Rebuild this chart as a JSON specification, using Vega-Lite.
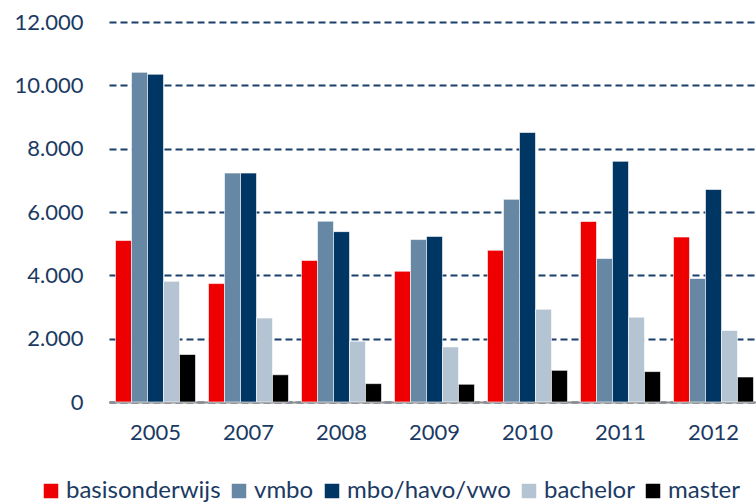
{
  "$schema": "https://vega.github.io/schema/vega-lite/v6.json",
  "autosize": {"type": "none"},
  "width": 651,
  "height": 380,
  "padding": {"left": 109, "top": 22, "right": 0, "bottom": 102},
  "background": "white",
  "config": {
    "font": "Lato",
    "view": {"stroke": null}
  },
  "data": {
    "values": [
      {"jaar": "2005", "niveau": "basisonderwijs", "aantal": 5100},
      {"jaar": "2005", "niveau": "vmbo", "aantal": 10410},
      {"jaar": "2005", "niveau": "mbo/havo/vwo", "aantal": 10350},
      {"jaar": "2005", "niveau": "bachelor", "aantal": 3810},
      {"jaar": "2005", "niveau": "master", "aantal": 1500},
      {"jaar": "2007", "niveau": "basisonderwijs", "aantal": 3740},
      {"jaar": "2007", "niveau": "vmbo", "aantal": 7230},
      {"jaar": "2007", "niveau": "mbo/havo/vwo", "aantal": 7230},
      {"jaar": "2007", "niveau": "bachelor", "aantal": 2650},
      {"jaar": "2007", "niveau": "master", "aantal": 860},
      {"jaar": "2008", "niveau": "basisonderwijs", "aantal": 4470},
      {"jaar": "2008", "niveau": "vmbo", "aantal": 5710},
      {"jaar": "2008", "niveau": "mbo/havo/vwo", "aantal": 5380},
      {"jaar": "2008", "niveau": "bachelor", "aantal": 1920},
      {"jaar": "2008", "niveau": "master", "aantal": 580},
      {"jaar": "2009", "niveau": "basisonderwijs", "aantal": 4130},
      {"jaar": "2009", "niveau": "vmbo", "aantal": 5130},
      {"jaar": "2009", "niveau": "mbo/havo/vwo", "aantal": 5230},
      {"jaar": "2009", "niveau": "bachelor", "aantal": 1740},
      {"jaar": "2009", "niveau": "master", "aantal": 560},
      {"jaar": "2010", "niveau": "basisonderwijs", "aantal": 4790},
      {"jaar": "2010", "niveau": "vmbo", "aantal": 6400},
      {"jaar": "2010", "niveau": "mbo/havo/vwo", "aantal": 8510},
      {"jaar": "2010", "niveau": "bachelor", "aantal": 2930},
      {"jaar": "2010", "niveau": "master", "aantal": 1000},
      {"jaar": "2011", "niveau": "basisonderwijs", "aantal": 5700},
      {"jaar": "2011", "niveau": "vmbo", "aantal": 4530},
      {"jaar": "2011", "niveau": "mbo/havo/vwo", "aantal": 7600},
      {"jaar": "2011", "niveau": "bachelor", "aantal": 2680},
      {"jaar": "2011", "niveau": "master", "aantal": 960},
      {"jaar": "2012", "niveau": "basisonderwijs", "aantal": 5210},
      {"jaar": "2012", "niveau": "vmbo", "aantal": 3900},
      {"jaar": "2012", "niveau": "mbo/havo/vwo", "aantal": 6710},
      {"jaar": "2012", "niveau": "bachelor", "aantal": 2260},
      {"jaar": "2012", "niveau": "master", "aantal": 790}
    ]
  },
  "mark": {"type": "bar", "stroke": "#ffffff", "strokeWidth": 0.6},
  "encoding": {
    "x": {
      "field": "jaar",
      "type": "nominal",
      "scale": {"paddingInner": 0.14, "paddingOuter": 0.07},
      "axis": {
        "title": null,
        "labelAngle": 0,
        "labelFontSize": 22,
        "labelColor": "#1B3A63",
        "labelPadding": 20,
        "ticks": false,
        "domainColor": "#8c8c8c",
        "domainWidth": 2
      }
    },
    "xOffset": {
      "field": "niveau",
      "type": "nominal",
      "sort": ["basisonderwijs", "vmbo", "mbo/havo/vwo", "bachelor", "master"],
      "scale": {"paddingInner": 0, "paddingOuter": 0}
    },
    "y": {
      "field": "aantal",
      "type": "quantitative",
      "scale": {"domain": [0, 12000], "nice": false},
      "axis": {
        "title": null,
        "values": [0, 2000, 4000, 6000, 8000, 10000, 12000],
        "labelExpr": "replace(format(datum.value, ','), ',', '.')",
        "labelFontSize": 22,
        "labelColor": "#1B3A63",
        "labelPadding": 26,
        "ticks": false,
        "domain": false,
        "grid": true,
        "gridColor": "#1B3F6B",
        "gridWidth": 2,
        "gridDash": [7, 4]
      }
    },
    "color": {
      "field": "niveau",
      "type": "nominal",
      "sort": ["basisonderwijs", "vmbo", "mbo/havo/vwo", "bachelor", "master"],
      "scale": {
        "domain": ["basisonderwijs", "vmbo", "mbo/havo/vwo", "bachelor", "master"],
        "range": ["#EE0000", "#6688A5", "#003663", "#B4C4D2", "#000000"]
      },
      "legend": {
        "title": null,
        "orient": "none",
        "direction": "horizontal",
        "legendX": -70,
        "legendY": 457,
        "symbolType": "square",
        "symbolSize": 210,
        "symbolStrokeWidth": 0,
        "labelFontSize": 24,
        "labelColor": "#1B3A63",
        "labelOffset": 3,
        "columnPadding": 6,
        "labelLimit": 300
      }
    }
  }
}
